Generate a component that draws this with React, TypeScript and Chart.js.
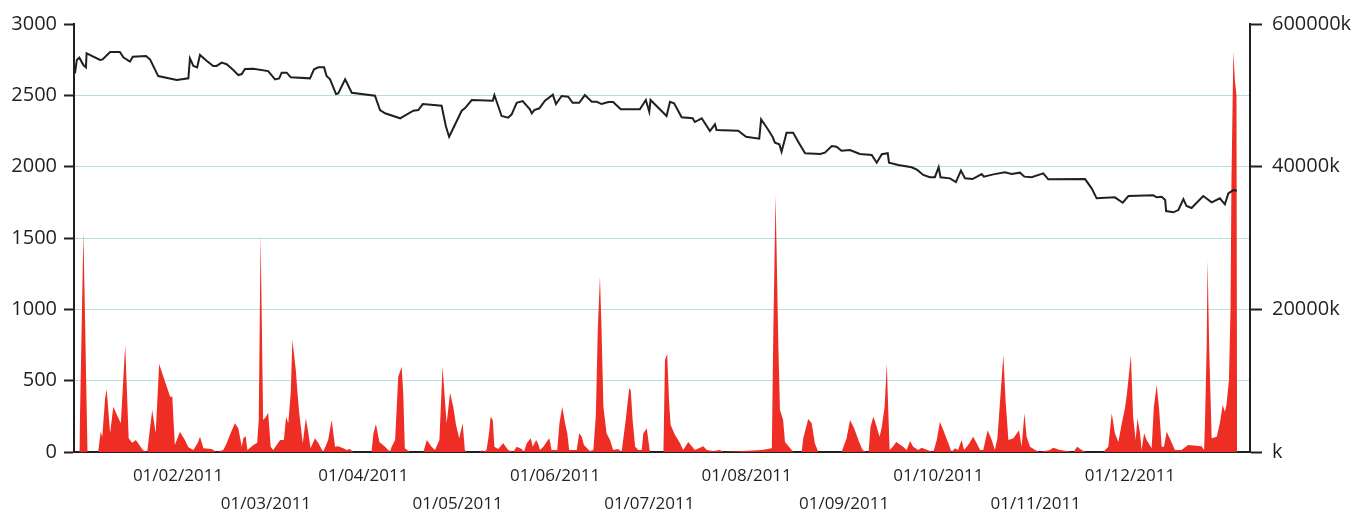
import React, { useEffect, useRef } from "react";
import { Chart, registerables } from "chart.js";

Chart.register(...registerables);

// x values are days counted from 01/01/2011
const priceDays = [
  -1.8, -1.2, -0.4, 0.9, 1.7, 1.9, 6.2, 7.0, 9.4, 12.5,
  13.6, 15.7, 16.6, 20.8, 22.1, 24.7, 30.6, 34.3, 34.8, 35.9,
  37.1, 38.0, 40.1, 42.2, 43.3, 44.9, 46.5, 48.6, 50.2, 51.3,
  52.3, 55.0, 59.7, 61.9, 63.2, 64.0, 65.6, 66.9, 73.0, 74.3,
  75.7, 77.5, 78.3, 79.4, 81.3, 82.0, 84.2, 86.3, 93.7, 95.3,
  96.9, 101.7, 105.9, 107.5, 108.9, 114.9, 116.3, 117.3, 121.3, 122.3,
  124.5, 131.2, 131.7, 134.0, 136.1, 137.2, 138.8, 140.7, 143.0, 143.6,
  144.4, 146.0, 147.8, 150.3, 151.3, 153.1, 155.2, 156.6, 158.7, 160.5,
  162.7, 164.3, 165.8, 168.0, 169.5, 171.9, 178.0, 179.9, 181.0, 181.4,
  186.5, 187.6, 188.9, 191.3, 194.8, 195.5, 197.7, 200.3, 201.9, 202.4,
  209.3, 211.8, 216.0, 216.6, 218.9, 220.3, 221.0, 222.4, 223.1, 224.7,
  226.8, 228.4, 230.6, 235.4, 236.9, 239.1, 240.6, 242.2, 244.9, 248.0,
  251.8, 253.4, 255.0, 256.9, 257.3, 260.3, 264.5, 266.3, 268.2, 270.3,
  271.9, 273.1, 273.7, 276.7, 278.6, 280.2, 281.5, 283.9, 286.8, 287.5,
  290.5, 294.2, 296.3, 299.0, 300.4, 302.7, 306.4, 308.0, 319.7, 321.8,
  323.4, 329.2, 331.7, 333.5, 341.4, 342.5, 344.1, 345.2, 345.5, 347.8,
  349.4, 351.0, 352.0, 353.6, 357.3, 360.0, 362.6, 364.2, 365.3, 366.9,
  368.0,
];
const priceValues = [
  2654, 2748, 2764, 2712, 2696, 2794, 2748, 2752, 2804, 2804,
  2766, 2736, 2771, 2776, 2752, 2635, 2607, 2619, 2759, 2706,
  2696, 2783, 2743, 2706, 2706, 2729, 2718, 2678, 2642, 2649,
  2684, 2687, 2670, 2612, 2619, 2659, 2659, 2626, 2619, 2682,
  2696, 2696, 2635, 2612, 2509, 2514, 2612, 2518, 2497, 2397,
  2374, 2339, 2392, 2397, 2439, 2427, 2280, 2210, 2392, 2409,
  2467, 2462, 2502, 2355, 2343, 2367, 2448, 2460, 2402, 2374,
  2397, 2409, 2462, 2504, 2439, 2495, 2490, 2448, 2448, 2502,
  2455, 2455, 2439, 2453, 2453, 2402, 2402, 2467, 2385, 2467,
  2355, 2455, 2444, 2346, 2339, 2313, 2339, 2250, 2297, 2257,
  2252, 2210, 2196, 2332, 2257, 2206, 2168, 2157, 2105, 2238,
  2238, 2175, 2094, 2089, 2098, 2145, 2140, 2112, 2117, 2089,
  2082, 2028, 2087, 2094, 2028, 2012, 1996, 1977, 1942, 1926,
  1926, 1996, 1926, 1918, 1892, 1972, 1918, 1913, 1948, 1930,
  1946, 1960, 1948, 1958, 1930, 1926, 1953, 1911, 1913, 1848,
  1778, 1785, 1747, 1794, 1799, 1785, 1789, 1766, 1689, 1680,
  1696, 1773, 1724, 1710, 1794, 1750, 1778, 1736, 1813, 1836,
  1831,
];

const volumeDays = [
  -0.4, 0.9, 2.2, 5.6, 6.4, 6.9, 7.8, 8.3, 9.4, 10.4,
  12.8, 14.2, 15.3, 16.4, 17.6, 19.8, 21.2, 21.9, 22.8, 23.9,
  25.0, 28.5, 29.2, 29.5, 30.0, 31.6, 33.2, 34.3, 35.9, 37.3,
  38.0, 39.1, 41.7, 43.3, 45.4, 46.5, 47.5, 49.1, 50.2, 51.3,
  51.8, 52.5, 53.1, 55.0, 56.2, 56.7, 57.3, 58.1, 59.0, 59.7,
  60.5, 61.3, 63.5, 64.7, 65.4, 66.1, 66.9, 67.4, 68.5, 69.0,
  69.6, 70.7, 71.7, 72.5, 73.2, 74.6, 75.7, 77.2, 78.8, 79.9,
  81.0, 82.0, 83.6, 84.7, 85.7, 86.8, 92.6, 93.2, 94.0, 95.1,
  96.9, 98.5, 99.0, 100.1, 101.1, 102.2, 102.7, 103.2, 104.8, 109.1,
  110.2, 111.7, 112.8, 114.2, 115.2, 116.5, 117.6, 118.6, 119.5, 120.5,
  121.6, 122.3, 122.9, 127.1, 127.7, 128.2, 129.2, 130.0, 130.5, 131.2,
  131.7, 132.9, 134.5, 136.1, 137.7, 138.8, 140.4, 141.1, 142.0, 143.3,
  143.9, 145.0, 145.7, 146.2, 147.3, 148.3, 149.2, 149.9, 151.7, 152.4,
  153.3, 154.2, 154.9, 155.5, 157.9, 158.7, 159.5, 160.2, 162.1, 163.2,
  164.0, 164.6, 165.3, 165.8, 166.4, 167.4, 168.5, 169.5, 171.1, 172.2,
  173.5, 174.6, 175.1, 175.7, 176.5, 177.5, 178.6, 179.1, 180.2, 181.2,
  185.5, 186.0, 186.7, 187.3, 187.8, 189.2, 190.8, 191.8, 193.4, 194.2,
  195.5, 198.2, 199.3, 201.4, 203.5, 204.6, 216.8, 220.0, 220.5, 221.2,
  222.1, 222.6, 223.6, 224.2, 226.3, 226.8, 229.5, 230.0, 231.6, 232.7,
  233.7, 234.8, 242.2, 243.8, 244.9, 246.2, 247.8, 248.9, 250.1, 250.8,
  251.4, 252.3, 252.9, 254.3, 255.0, 255.9, 256.6, 257.1, 257.5, 258.5,
  259.6, 261.8, 262.9, 264.0, 265.0, 266.6, 267.7, 269.5, 271.4, 272.5,
  273.5, 274.6, 276.2, 277.2, 278.3, 279.3, 280.4, 281.2, 282.5, 284.1,
  285.2, 286.3, 287.3, 288.7, 290.0, 291.0, 291.8, 292.6, 293.7, 294.4,
  295.3, 296.9, 298.7, 299.5, 300.4, 301.1, 302.2, 303.8, 305.3, 308.5,
  309.6, 311.7, 316.0, 317.2, 318.6, 320.0, 325.5, 327.1, 328.2, 329.2,
  330.3, 331.4, 332.4, 333.1, 334.3, 335.0, 335.8, 336.4, 337.2, 337.7,
  338.5, 339.3, 340.9, 341.6, 342.5, 343.3, 344.1, 344.8, 345.7, 346.9,
  348.3, 350.4, 352.5, 356.8, 357.6, 357.9, 358.4, 358.7, 359.2, 360.0,
  361.6, 362.6, 363.5, 364.2, 364.7, 365.5, 366.0, 366.3, 366.9, 367.4,
  367.9, 368.1,
];
// volume in thousands (k)
const volumeK = [
  0, 30880, 0, 0, 2840, 2140, 7520, 8780, 2620, 6360,
  4020, 15000, 1920, 1300, 1680, 280, 0, 2620, 5880, 2620,
  12340, 7760, 7760, 5040, 980, 2840, 1680, 660, 280, 1300,
  2140, 520, 420, 0, 280, 1220, 2380, 4020, 3320, 740,
  1920, 2240, 280, 980, 1300, 4480, 30420, 4480, 4940, 5500,
  740, 280, 1680, 1680, 4940, 4020, 8460, 15700, 11500, 8460,
  5420, 1220, 4720, 2620, 520, 1920, 1220, 0, 1680, 4480,
  740, 800, 520, 280, 420, 0, 0, 2620, 3920, 1400,
  740, 0, 740, 1680, 10560, 11960, 8180, 520, 0, 0,
  1680, 740, 280, 1680, 11960, 4020, 8320, 6360, 3780, 1920,
  4020, 280, 0, 0, 280, 0, 280, 2620, 4940, 4480,
  740, 420, 1220, 280, 0, 740, 420, 0, 1220, 1920,
  740, 1680, 1080, 280, 740, 1400, 1920, 280, 280, 4020,
  6360, 4020, 2620, 280, 280, 2620, 2140, 980, 140, 280,
  5180, 17100, 24580, 17340, 6360, 2620, 1680, 280, 420, 0,
  4480, 8920, 8640, 4480, 740, 280, 280, 2620, 3320, 0,
  0, 12900, 13740, 7060, 3780, 2380, 1220, 280, 1400, 980,
  280, 800, 280, 140, 280, 0, 280, 520, 17560, 36020,
  14540, 5880, 4480, 1400, 280, 0, 0, 1920, 4620, 4020,
  1220, 0, 0, 1920, 4480, 3320, 1400, 280, 0, 0,
  3500, 4940, 4240, 2140, 3500, 6360, 12340, 5420, 280, 740,
  1400, 740, 280, 1540, 740, 280, 600, 280, 0, 1680,
  4240, 3040, 1220, 0, 520, 280, 1680, 280, 980, 2140,
  1220, 280, 280, 3040, 1680, 280, 1920, 6820, 13600, 7240,
  1680, 1920, 3040, 740, 5420, 2140, 740, 280, 0, 280,
  600, 280, 0, 740, 280, 0, 0, 740, 5420, 2620,
  1400, 4020, 6120, 8460, 13600, 4940, 1680, 4720, 2620, 280,
  2620, 1680, 520, 6360, 9400, 5880, 740, 740, 2840, 1680,
  280, 280, 980, 800, 280, 4480, 14760, 26920, 14760, 1920,
  2140, 4020, 6580, 5660, 6600, 10100, 20000, 38000, 56120, 52000,
  50000, 0,
];

const leftTickValues = [0, 500, 1000, 1500, 2000, 2500, 3000];
const rightTickValues = [0, 20000, 40000, 60000];
const rightTickLabels = ["k", "20000k", "40000k", "600000k"];
const monthTickDays = [31, 59, 90, 120, 151, 181, 212, 243, 273, 304, 334];
const monthTickLabels = [
  "01/02/2011", "01/03/2011", "01/04/2011", "01/05/2011", "01/06/2011", "01/07/2011",
  "01/08/2011", "01/09/2011", "01/10/2011", "01/11/2011", "01/12/2011",
];

const INK = "#231f20";
const GRID = "#b4dde2";
const RED = "#ee2e24";
const FONT = "'Open Sans', 'Noto Sans', sans-serif";

export default function App() {
  const ref = useRef<HTMLCanvasElement>(null);

  useEffect(() => {
    const pricePts = priceDays.map((d, i) => ({ x: d, y: priceValues[i] }));
    const volPts = volumeDays.map((d, i) => ({ x: d, y: volumeK[i] }));
    const chart = new Chart(ref.current as HTMLCanvasElement, {
      type: "line",
      data: {
        datasets: [
          {
            label: "price",
            data: pricePts,
            yAxisID: "y",
            borderColor: INK,
            borderWidth: 2,
            pointRadius: 0,
            tension: 0,
            fill: false,
            order: 0,
          },
          {
            label: "volume",
            data: volPts,
            yAxisID: "y1",
            backgroundColor: RED,
            borderColor: RED,
            borderWidth: 0,
            pointRadius: 0,
            tension: 0,
            fill: "origin",
            order: 1,
          },
        ],
      },
      options: {
        responsive: false,
        animation: false,
        events: [],
        layout: { padding: { top: 24, left: 0, right: 0, bottom: 0 } },
        plugins: { legend: { display: false }, tooltip: { enabled: false } },
        scales: {
          x: {
            type: "linear",
            min: -2.1,
            max: 372.2,
            afterBuildTicks: (s: any) => {
              s.ticks = monthTickDays.map((v) => ({ value: v }));
            },
            afterFit: (s: any) => {
              s.height = 61;
            },
            grid: { display: false, drawTicks: false },
            border: { display: true, color: INK, width: 2 },
            ticks: {
              autoSkip: false,
              maxRotation: 0,
              minRotation: 0,
              padding: 10,
              color: INK,
              font: { family: FONT, size: 17, lineHeight: 28 / 17 },
              callback: (_v: any, i: number) =>
                i % 2 === 0 ? [monthTickLabels[i], ""] : ["", monthTickLabels[i]],
            },
          },
          y: {
            type: "linear",
            position: "left",
            min: 0,
            max: 3000,
            afterBuildTicks: (s: any) => {
              s.ticks = leftTickValues.map((v) => ({ value: v }));
            },
            afterFit: (s: any) => {
              s.width = 74;
            },
            grid: {
              color: (ctx: any) =>
                ctx.tick && (ctx.tick.value === 0 || ctx.tick.value === 3000)
                  ? "rgba(0,0,0,0)"
                  : GRID,
              lineWidth: 1,
              drawTicks: true,
              tickLength: 10,
              tickWidth: 2,
              tickColor: INK,
            },
            border: { display: true, color: INK, width: 2 },
            ticks: {
              padding: 7,
              color: INK,
              font: { family: FONT, size: 20 },
              callback: (v: any) => String(v),
            },
          },
          y1: {
            type: "linear",
            position: "right",
            min: 0,
            max: 60000,
            afterBuildTicks: (s: any) => {
              s.ticks = rightTickValues.map((v) => ({ value: v }));
            },
            afterFit: (s: any) => {
              s.width = 120;
            },
            grid: {
              drawOnChartArea: false,
              drawTicks: true,
              tickLength: 12,
              tickWidth: 2,
              tickColor: INK,
            },
            border: { display: true, color: INK, width: 2 },
            ticks: {
              padding: 10,
              color: INK,
              font: { family: FONT, size: 20 },
              callback: (_v: any, i: number) => rightTickLabels[i],
            },
          },
        },
      },
    } as any);
    return () => chart.destroy();
  }, []);

  return (
    <div style={{ position: "fixed", left: 0, top: 0, width: 1370, height: 513, background: "#fff" }}>
      <canvas ref={ref} width={1370} height={513} style={{ display: "block", width: 1370, height: 513 }} />
    </div>
  );
}
